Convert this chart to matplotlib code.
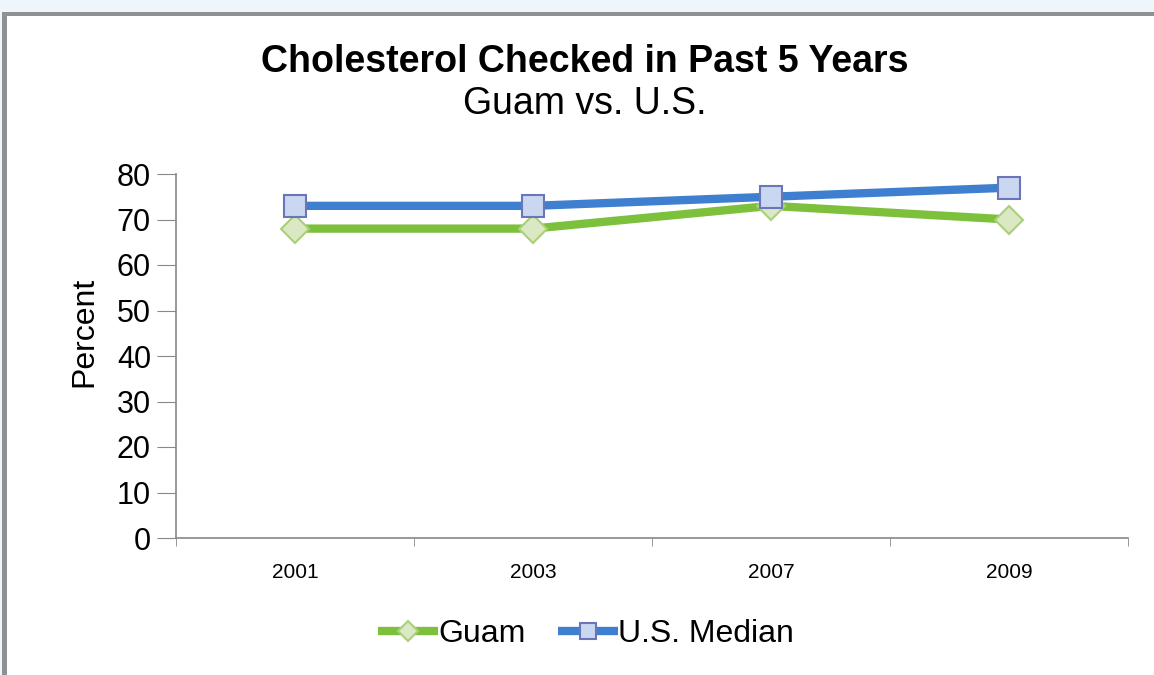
import matplotlib
matplotlib.use("Agg")
import matplotlib.pyplot as plt
from matplotlib.patches import Rectangle
import numpy as np

years = ["2001", "2003", "2007", "2009"]
guam = [68, 68, 73, 70]
us_median = [73, 73, 75, 77]
yticks = [0, 10, 20, 30, 40, 50, 60, 70, 80]

plt.rcParams['font.family'] = ['Liberation Sans', 'DejaVu Sans']

W, H = 1154, 675
fig = plt.figure(figsize=(W/100, H/100), dpi=100)
fig.patch.set_facecolor('#eef5fb')

# white panel with gray border
fig.patches.append(Rectangle((4/W, 0), (W-4)/W, (H-14)/H, transform=fig.transFigure,
                             facecolor='white', edgecolor='none', zorder=-2))
fig.patches.append(Rectangle((2/W, (H-16)/H), (W-2)/W, 4/H, transform=fig.transFigure,
                             facecolor='#8e9094', edgecolor='none', zorder=-1))
fig.patches.append(Rectangle((2/W, 0), 5/W, (H-12)/H, transform=fig.transFigure,
                             facecolor='#8e9094', edgecolor='none', zorder=-1))

ax = fig.add_axes([176/W, (H-538)/H, (1128-176)/W, (538-174)/H])
ax.set_zorder(5)
ax.set_facecolor('none')
x = np.arange(len(years))

ax.plot(x, guam, color='#7dc03c', lw=6, marker='D', ms=14,
        markerfacecolor='#dbe8c4', markeredgecolor='#a9cf7a', markeredgewidth=1.5,
        label='Guam', zorder=3, solid_capstyle='butt')
ax.plot(x, us_median, color='#3f7fcf', lw=6, marker='s', ms=16,
        markerfacecolor='#c9d7f0', markeredgecolor='#6a76b8', markeredgewidth=1.5,
        label='U.S. Median', zorder=4, solid_capstyle='butt')

ax.set_xlim(-0.5, len(years) - 0.5)
ax.set_ylim(0, 80)
ax.set_yticks(yticks)
ax.set_yticklabels([str(v) for v in yticks], fontsize=22)
ax.set_xticks(x)
ax.set_xticklabels(years, fontsize=15)
ax.set_xticks(np.arange(-0.5, len(years)), minor=True)
ax.tick_params(axis='x', which='major', length=0, pad=18)
ax.tick_params(axis='x', which='minor', length=6, color='#888888', direction='out')
ax.tick_params(axis='y', length=14, color='#888888', direction='out', pad=4)
for s in ['top', 'right']:
    ax.spines[s].set_visible(False)
for s in ['left', 'bottom']:
    ax.spines[s].set_color('#888888')
    ax.spines[s].set_linewidth(1.2)

ax.set_ylabel('Percent', fontsize=23, labelpad=14)
ax.yaxis.set_label_coords(-0.081, 0.566)

fig.text(585/W, 1 - 62/H, 'Cholesterol Checked in Past 5 Years', ha='center', va='center',
         fontsize=27, fontweight='bold')
fig.text(585/W, 1 - 104/H, 'Guam vs. U.S.', ha='center', va='center', fontsize=27)

leg = fig.legend(loc='center', bbox_to_anchor=(586/W, 1 - 634/H), ncol=2, frameon=False,
                 fontsize=23, handlelength=1.9, handletextpad=0.0, columnspacing=1.0,
                 markerscale=0.7)

fig.savefig('out.png', dpi=100, facecolor=fig.get_facecolor())
